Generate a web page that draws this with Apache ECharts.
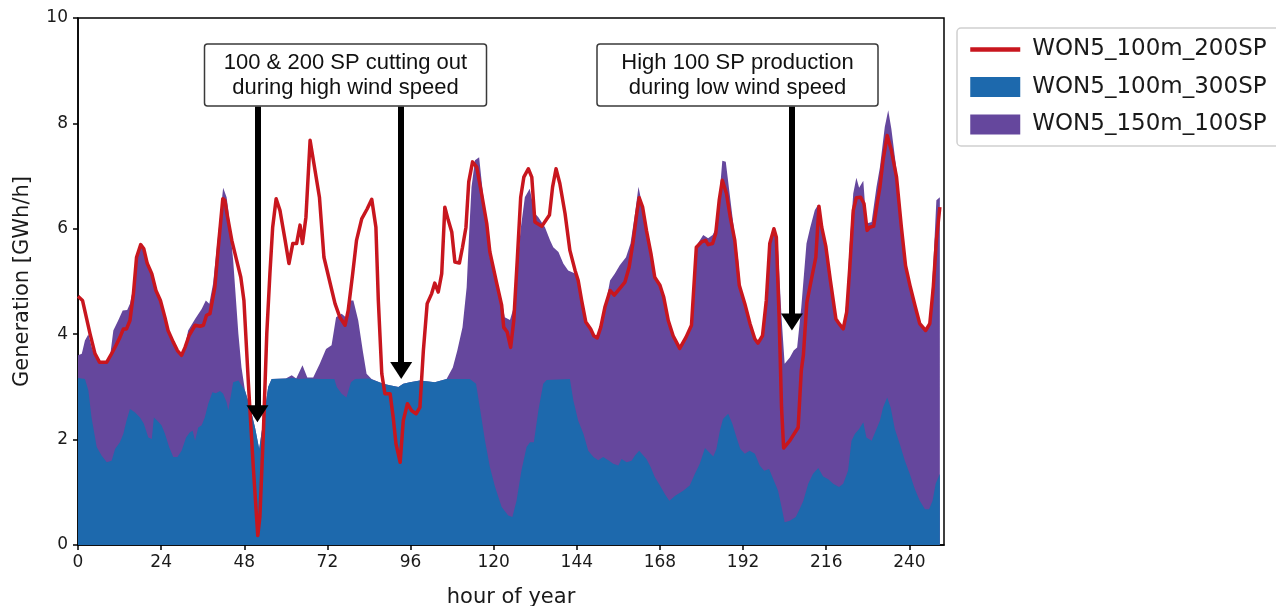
<!DOCTYPE html>
<html>
<head>
<meta charset="utf-8">
<title>WON5 generation</title>
<script src="https://cdn.jsdelivr.net/npm/echarts@6.0.0/dist/echarts.min.js"></script>
<style>
    html, body { margin: 0; padding: 0; background: #fff; }
    #chart { width: 1276px; height: 606px; }
</style>
</head>
<body>
<div id="chart"></div>
<script>
// x axis ticks (hour of year)
var xTicks = [0, 24, 48, 72, 96, 120, 144, 168, 192, 216, 240];
var yTicks = [0, 2, 4, 6, 8, 10];

// WON5_100m_200SP (red line)
var redHours = [0, 1.3, 3.5, 4.9, 6.2, 8.3, 9.7, 11.2, 12.1, 13.1, 14, 15, 16, 16.9, 18.1, 19, 20, 21.3, 22.5, 23.8,
    25.1, 26, 27.5, 28.7, 29.9, 30.9, 32.1, 33.8, 35.2, 36.2, 37.1, 38.1, 39.5, 40.5, 41.8, 42.4, 43, 44.4, 45.8, 47,
    47.9, 49.2, 50.6, 51.9, 52.5, 53.5, 54.5, 55.4, 56.2, 57.2, 58.3, 59.8, 60.9, 62, 63.1, 64.1, 64.8, 65.8, 67, 68.1,
    69.7, 71, 72.7, 74.2, 75.6, 77.1, 78, 79.3, 80.4, 81.9, 83.5, 84.8, 86, 86.7, 87.7, 88.6, 90.1, 91, 91.8, 93,
    93.9, 95.1, 96.3, 97.6, 98.7, 99.7, 100.8, 102.1, 103, 104, 105, 105.9, 106.9, 107.9, 108.8, 110.1, 111, 112, 112.8, 113.9,
    115.1, 116.5, 118, 118.9, 120.8, 122.3, 122.9, 123.9, 124.9, 125.8, 126.8, 127.8, 128.7, 130, 131, 131.9, 133.9, 136.1, 137, 138,
    139.1, 140.6, 142, 143.5, 144.4, 145.4, 146.6, 148, 148.9, 149.9, 150.9, 152.1, 153.6, 154.8, 156.3, 157.9, 159.1, 160.3, 161.3, 162,
    163, 164.1, 165.4, 166.5, 168, 169.1, 170.4, 171.8, 173.7, 175.5, 177.1, 178.5, 180, 181.2, 181.9, 183.2, 184.1, 185.1, 186, 187.2,
    188.3, 189.6, 190.9, 192.5, 194, 195.4, 196.3, 197.6, 198.7, 199.7, 200.9, 201.6, 202.4, 203.1, 203.7, 205.5, 207.9, 208.8, 209.4, 210.4,
    211.6, 213, 213.9, 214.7, 215.9, 217.2, 218.8, 219.7, 220.9, 221.9, 222.8, 223.8, 224.7, 225.9, 226.9, 227.8, 228.6, 229.7, 230.7, 231.5,
    232.4, 233.6, 234.8, 236.3, 237.7, 238.9, 240.3, 241.6, 243, 244.7, 245.9, 246.9, 247.8, 248.8];
var redValues = [4.72, 4.64, 4.0, 3.63, 3.47, 3.47, 3.63, 3.82, 3.94, 4.10, 4.10, 4.26, 4.77, 5.46, 5.70, 5.62, 5.34, 5.15, 4.83, 4.64,
    4.32, 4.07, 3.85, 3.69, 3.60, 3.75, 3.98, 4.17, 4.15, 4.17, 4.36, 4.39, 4.89, 5.65, 6.57, 6.54, 6.29, 5.78, 5.40, 5.08,
    4.64, 3.06, 1.48, 0.18, 0.53, 2.11, 4.01, 5.15, 6.03, 6.57, 6.35, 5.78, 5.34, 5.72, 5.72, 6.07, 5.72, 6.22, 7.68, 7.24,
    6.60, 5.46, 4.99, 4.58, 4.32, 4.17, 4.45, 5.15, 5.78, 6.19, 6.38, 6.56, 6.03, 4.64, 3.25, 2.87, 2.87, 2.42, 1.92, 1.57,
    2.36, 2.68, 2.55, 2.49, 2.61, 3.69, 4.58, 4.77, 4.97, 4.80, 5.15, 6.41, 6.16, 5.94, 5.37, 5.35, 5.65, 6.03, 6.89, 7.27,
    7.17, 6.67, 6.10, 5.56, 4.99, 4.55, 4.13, 4.04, 3.75, 4.26, 5.40, 6.60, 6.98, 7.14, 6.98, 6.13, 6.05, 6.26, 6.79, 7.14,
    6.86, 6.29, 5.59, 5.21, 5.02, 4.64, 4.23, 4.10, 3.97, 3.93, 4.13, 4.51, 4.83, 4.74, 4.86, 4.99, 5.27, 5.78, 6.29, 6.59,
    6.41, 5.97, 5.53, 5.08, 4.93, 4.70, 4.26, 3.97, 3.73, 3.94, 4.17, 5.65, 5.75, 5.78, 5.70, 5.72, 5.91, 6.54, 6.92, 6.67,
    6.22, 5.78, 4.93, 4.58, 4.20, 3.91, 3.83, 3.97, 4.64, 5.72, 6.00, 5.84, 4.32, 2.61, 1.84, 1.98, 2.23, 3.31, 3.60, 4.60,
    5.00, 5.46, 6.43, 6.03, 5.66, 5.02, 4.29, 4.20, 4.10, 4.42, 5.27, 6.35, 6.59, 6.60, 6.48, 5.97, 6.03, 6.05, 6.48, 6.79,
    7.30, 7.77, 7.49, 6.98, 6.03, 5.30, 4.89, 4.55, 4.20, 4.07, 4.20, 4.89, 5.78, 6.41];

// WON5_100m_300SP (blue area)
var blueHours = [0, 2, 3, 3.9, 5.4, 6.8, 8.3, 9.7, 10.7, 12.1, 13.1, 14, 15, 16.4, 17.9, 19, 20.3, 21.3, 21.9, 22.9,
    24.1, 25.1, 26.3, 27.5, 28.7, 29.9, 31.2, 32.3, 33.1, 33.8, 34.7, 35.7, 36.6, 37.6, 38.8, 39.8, 41, 41.9, 42.9, 43.4,
    44.8, 46.3, 48.2, 49.7, 51.1, 52.3, 53.5, 54.9, 55.9, 60, 62, 64, 66, 70, 74, 74.7, 76.1, 77.5, 78.8, 80,
    84, 87, 88.1, 90, 92.5, 93.9, 95.8, 98.7, 103, 106.4, 113.1, 114.9, 116, 117.5, 118.9, 120.4, 122.3, 124.2, 125.4, 126.6,
    128, 129.5, 130.5, 131.6, 132.9, 134.3, 135.3, 142, 143, 144.4, 145.9, 147.3, 148.8, 150.2, 151.6, 153.1, 154.5, 156, 156.9, 158.4,
    159.8, 160.8, 162, 163.2, 164.1, 165.3, 166.5, 168, 169.4, 170.7, 172.5, 174.7, 176.6, 178.1, 179.5, 181, 182.2, 183.4, 184.3, 185.3,
    186.2, 187.7, 188.9, 190.1, 191.2, 192.5, 193.9, 195.4, 196.8, 198.1, 199.5, 200.9, 202.1, 203.1, 204, 205.5, 207.2, 208.3, 209.4, 210.8,
    212.2, 213.7, 215.1, 216.6, 218, 219.7, 220.9, 222.3, 223.3, 224.3, 225.5, 226.7, 227.6, 229.1, 230.3, 231.5, 232.4, 233.6, 234.6, 235.8,
    237.2, 238.7, 240.1, 241.6, 243, 244.5, 245.7, 246.7, 247.6, 248.8];
var blueValues = [3.17, 3.15, 2.93, 2.42, 1.86, 1.70, 1.57, 1.60, 1.82, 1.95, 2.11, 2.36, 2.58, 2.52, 2.42, 2.30, 2.04, 2.01, 2.42, 2.36,
    2.27, 2.11, 1.86, 1.67, 1.67, 1.79, 2.04, 2.14, 2.17, 1.98, 2.23, 2.27, 2.42, 2.68, 2.90, 2.88, 2.92, 2.87, 2.71, 2.55,
    3.09, 3.12, 2.93, 2.61, 2.23, 1.82, 2.36, 3.00, 3.15, 3.16, 3.17, 3.15, 3.16, 3.15, 3.15, 3.00, 2.87, 2.80, 3.09, 3.15,
    3.16, 3.09, 3.06, 3.03, 3.00, 3.06, 3.09, 3.12, 3.09, 3.15, 3.15, 3.06, 2.61, 1.98, 1.48, 1.10, 0.72, 0.56, 0.53, 0.84,
    1.41, 1.86, 1.95, 1.95, 2.55, 3.06, 3.13, 3.15, 2.74, 2.36, 2.11, 1.79, 1.67, 1.61, 1.67, 1.61, 1.54, 1.51, 1.63, 1.57,
    1.60, 1.70, 1.79, 1.70, 1.63, 1.48, 1.29, 1.13, 0.97, 0.84, 0.94, 1.03, 1.13, 1.35, 1.54, 1.84, 1.76, 1.68, 1.82, 2.17,
    2.39, 2.49, 2.30, 2.04, 1.82, 1.73, 1.79, 1.73, 1.51, 1.41, 1.44, 1.22, 1.03, 0.72, 0.43, 0.46, 0.53, 0.68, 0.84, 1.16,
    1.35, 1.46, 1.30, 1.25, 1.16, 1.10, 1.16, 1.41, 1.98, 2.11, 2.20, 2.33, 2.04, 1.98, 2.17, 2.36, 2.61, 2.80, 2.61, 2.20,
    1.92, 1.60, 1.35, 1.06, 0.84, 0.68, 0.68, 0.84, 1.16, 1.35];

// WON5_150m_100SP (purple area)
var purpleHours = [0, 1.1, 2, 3, 4, 4.9, 6.2, 8.3, 9.3, 10.2, 11.6, 12.9, 14.2, 15, 16, 16.9, 18.1, 19, 20, 21.3,
    22.5, 23.8, 25.1, 26, 27.5, 28.7, 29.9, 30.9, 31.8, 33.8, 35.7, 36.9, 37.9, 39, 40.5, 41.9, 42.9, 43.4, 44.8, 46.3,
    47.2, 48.2, 49.7, 51.1, 52.3, 53.5, 54.9, 55.9, 60, 61.7, 63, 64.8, 66.2, 67.9, 69.8, 71.6, 73.2, 74.5, 76.1, 77.3,
    78.5, 79.5, 80.9, 82.2, 83.3, 84.75, 87, 88.1, 90, 92.5, 93.9, 95.8, 98.7, 103, 106.4, 106.9, 108.2, 109.5, 111, 112.2,
    113, 113.6, 114.6, 115.8, 116.8, 118, 118.9, 120.8, 122.3, 123.2, 124.7, 125.8, 126.8, 127.8, 129, 130.4, 131.9, 132.9, 134.8, 136.3,
    137.2, 138.7, 140.1, 141.5, 143.5, 144.4, 145.4, 146.6, 148, 148.9, 149.9, 150.9, 152.1, 153.6, 155, 156.4, 158.2, 159.5, 160.8, 161.8,
    163, 164.1, 165.4, 166.5, 168, 169.1, 170.4, 171.8, 173.7, 175.5, 177.1, 178.5, 180.5, 181.9, 183.2, 184.3, 185.3, 186, 187, 188,
    189.3, 190.6, 191.2, 192.5, 194, 195.4, 196.3, 197.6, 198.7, 199.7, 201.1, 202.1, 203.1, 204, 205.5, 206.6, 207.6, 208.8, 210.3, 211.4,
    212.7, 213.6, 215, 215.9, 217.2, 218.8, 219.7, 220.9, 221.9, 222.8, 223.8, 224.7, 225.5, 226.7, 227.6, 229.1, 230.5, 231.5, 232.9, 233.9,
    234.8, 236.3, 237.7, 238.9, 240.3, 241.6, 243, 244.7, 245.9, 246.9, 247.8, 248.8];
var purpleValues = [3.60, 3.63, 3.88, 4.00, 3.75, 3.58, 3.45, 3.45, 3.60, 4.07, 4.26, 4.45, 4.46, 4.58, 4.89, 5.46, 5.72, 5.60, 5.32, 5.12,
    4.80, 4.60, 4.30, 4.05, 3.83, 3.67, 3.60, 3.78, 4.07, 4.29, 4.48, 4.64, 4.58, 4.96, 5.91, 6.78, 6.60, 6.35, 5.40, 4.01,
    3.37, 2.93, 2.61, 2.23, 1.82, 2.36, 3.00, 3.15, 3.16, 3.22, 3.16, 3.41, 3.18, 3.18, 3.44, 3.72, 3.79, 4.32, 4.39, 4.32,
    4.64, 4.64, 4.26, 3.69, 3.25, 3.15, 3.09, 3.06, 3.03, 3.00, 3.06, 3.09, 3.12, 3.09, 3.15, 3.18, 3.37, 3.69, 4.13, 4.89,
    6.03, 6.79, 7.30, 7.36, 6.73, 6.03, 5.46, 5.02, 4.64, 4.32, 4.27, 4.51, 5.27, 6.00, 6.60, 6.76, 6.29, 6.22, 6.03, 5.78,
    5.65, 5.56, 5.34, 5.21, 5.15, 5.00, 4.62, 4.21, 4.08, 3.95, 3.91, 4.11, 4.49, 5.02, 5.15, 5.31, 5.46, 5.72, 6.29, 6.80,
    6.41, 5.97, 5.53, 5.08, 4.93, 4.70, 4.26, 3.97, 3.72, 3.94, 4.17, 5.68, 5.88, 5.82, 5.88, 6.03, 6.73, 7.29, 7.27, 6.73,
    6.03, 5.40, 4.90, 4.58, 4.20, 3.91, 3.83, 3.97, 4.64, 5.72, 5.97, 5.59, 4.32, 3.44, 3.56, 3.69, 3.75, 4.51, 5.72, 6.03,
    6.35, 6.45, 6.03, 5.70, 5.05, 4.31, 4.22, 4.12, 4.64, 5.72, 6.67, 6.97, 6.78, 6.91, 6.10, 6.13, 6.79, 7.17, 7.93, 8.25,
    7.90, 7.11, 6.05, 5.32, 4.91, 4.57, 4.22, 4.09, 4.22, 5.30, 6.54, 6.60];

// annotation arrows: hour, tip value, and the top (box bottom)
var arrowHours = [51.8, 93.3, 206.1];
var arrowTips = [2.33, 3.15, 4.07];
var arrowTop = 8.32;

function pairs(hours, values) {
    var out = [];
    for (var i = 0; i < hours.length; i++) {
        out.push([hours[i], values[i]]);
    }
    return out;
}

var gridTop = 18, gridHeight = 527;
var headLen = 17;
// triangle symbol sits centred on the end point, move end back half a head
var headShift = (headLen / 2) / gridHeight * 10;

var arrowData = [];
for (var i = 0; i < arrowHours.length; i++) {
    arrowData.push([
        { coord: [arrowHours[i], arrowTop] },
        { coord: [arrowHours[i], arrowTips[i] + headShift] }
    ]);
}

var tickFont = 'DejaVu Sans';
var myChart = echarts.init(document.getElementById('chart'));

var option = {
    animation: false,
    backgroundColor: '#fff',
    grid: {
        left: 78, right: 332, top: gridTop, height: gridHeight,
        outerBoundsMode: 'none',
        show: true, borderColor: '#000', borderWidth: 1.5, backgroundColor: 'transparent'
    },
    legend: {
        orient: 'vertical',
        left: 957, top: 28,
        itemWidth: 50, itemHeight: 20, itemGap: 14.5,
        padding: [10, 40, 10, 11],
        borderColor: '#d0d0d0', borderWidth: 1.5, borderRadius: 4,
        textStyle: { fontFamily: tickFont, fontSize: 23, color: '#1a1a1a', padding: [0, 0, 0, 7] },
        data: [
            // hide the round marker, keep only the line
            { name: 'WON5_100m_200SP', itemStyle: { opacity: 0 }, lineStyle: { width: 4.5 } },
            { name: 'WON5_100m_300SP', icon: 'rect' },
            { name: 'WON5_150m_100SP', icon: 'rect' }
        ]
    },
    xAxis: {
        type: 'value',
        min: 0, max: 250, interval: 24,
        name: 'hour of year',
        nameLocation: 'middle', nameGap: 42,
        nameTextStyle: { fontFamily: tickFont, fontSize: 21, color: '#1a1a1a' },
        axisLine: { show: true, lineStyle: { color: '#000', width: 1.5 } },
        axisTick: { show: true, length: 5, customValues: xTicks, lineStyle: { color: '#000', width: 1.5 } },
        axisLabel: {
            margin: 9, fontFamily: tickFont, fontSize: 17, color: '#1a1a1a',
            customValues: xTicks
        },
        splitLine: { show: false }
    },
    yAxis: {
        type: 'value',
        min: 0, max: 10, interval: 2,
        name: 'Generation [GWh/h]',
        nameLocation: 'middle', nameGap: 45,
        nameTextStyle: { fontFamily: tickFont, fontSize: 21, color: '#1a1a1a' },
        axisLine: { show: true, lineStyle: { color: '#000', width: 1.5 } },
        axisTick: { show: true, length: 5, customValues: yTicks, lineStyle: { color: '#000', width: 1.5 } },
        axisLabel: {
            margin: 10, fontFamily: tickFont, fontSize: 17, color: '#1a1a1a',
            customValues: yTicks
        },
        splitLine: { show: false }
    },
    series: [
        {
            name: 'WON5_150m_100SP',
            type: 'line',
            data: pairs(purpleHours, purpleValues),
            symbol: 'none',
            z: 1,
            itemStyle: { color: '#65479d' },
            lineStyle: { width: 0 },
            areaStyle: { color: '#65479d', opacity: 1 }
        },
        {
            name: 'WON5_100m_300SP',
            type: 'line',
            data: pairs(blueHours, blueValues),
            symbol: 'none',
            z: 2,
            itemStyle: { color: '#1d69ad' },
            lineStyle: { width: 0 },
            areaStyle: { color: '#1d69ad', opacity: 1 }
        },
        {
            name: 'WON5_100m_200SP',
            type: 'line',
            data: pairs(redHours, redValues),
            symbol: 'none',
            z: 3,
            itemStyle: { color: '#c8161e' },
            lineStyle: { color: '#c8161e', width: 3.5, join: 'round' },
            markLine: {
                silent: true,
                symbol: ['none', 'triangle'],
                symbolSize: [22, headLen],
                label: { show: false },
                lineStyle: { color: '#000', width: 6, type: 'solid' },
                emphasis: { disabled: true },
                z: 10,
                data: arrowData
            }
        }
    ],
    graphic: [
        {
            type: 'rect', z: 100,
            shape: { x: 204.5, y: 44, width: 282, height: 62, r: 3 },
            style: { fill: '#fff', stroke: '#3a3a3a', lineWidth: 1.5 }
        },
        {
            type: 'text', z: 101,
            x: 345.5, y: 75,
            style: {
                text: '100 & 200 SP cutting out\nduring high wind speed',
                fontFamily: 'Liberation Sans', fontSize: 22, lineHeight: 25,
                fill: '#111', align: 'center', verticalAlign: 'middle'
            }
        },
        {
            type: 'rect', z: 100,
            shape: { x: 597, y: 44, width: 281, height: 62, r: 3 },
            style: { fill: '#fff', stroke: '#3a3a3a', lineWidth: 1.5 }
        },
        {
            type: 'text', z: 101,
            x: 737.5, y: 75,
            style: {
                text: 'High 100 SP production\nduring low wind speed',
                fontFamily: 'Liberation Sans', fontSize: 22, lineHeight: 25,
                fill: '#111', align: 'center', verticalAlign: 'middle'
            }
        }
    ]
};

myChart.setOption(option);
</script>
</body>
</html>
